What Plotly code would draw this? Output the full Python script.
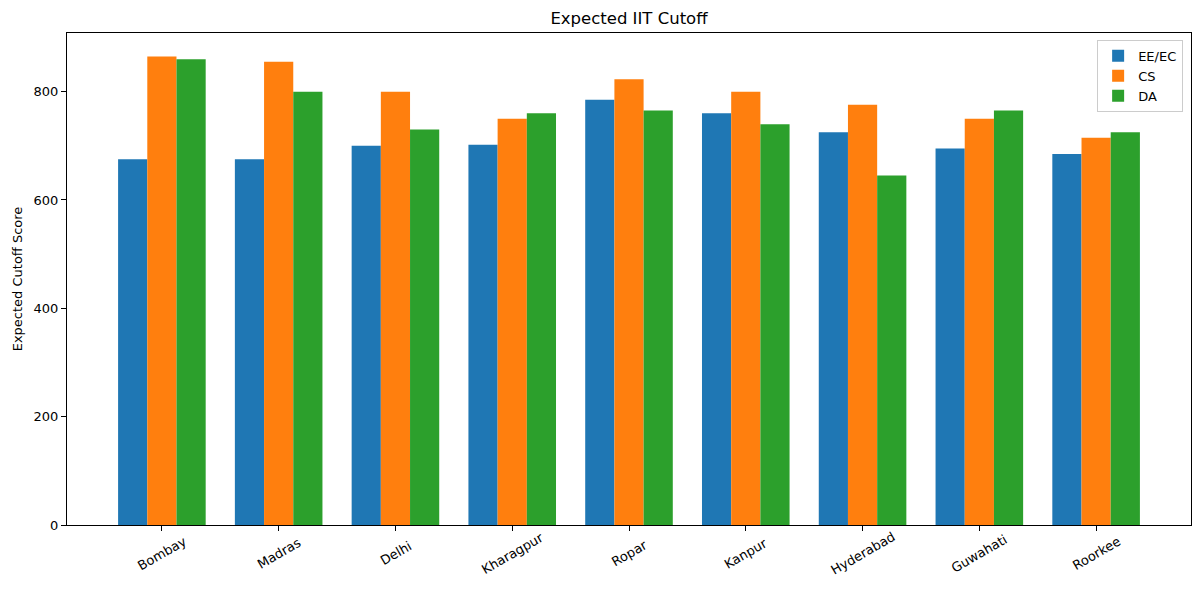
import plotly.graph_objects as go

# Expected cutoff scores
institutes = ["Bombay", "Madras", "Delhi", "Kharagpur", "Ropar",
              "Kanpur", "Hyderabad", "Guwahati", "Roorkee"]
ee_ec = [675, 675, 700, 702, 785, 760, 725, 695, 685]
cs = [865, 855, 800, 750, 823, 800, 776, 750, 715]
da = [860, 800, 730, 760, 765, 740, 645, 765, 725]

series = [("EE/EC", ee_ec, "#1f77b4"),
          ("CS", cs, "#ff7f0e"),
          ("DA", da, "#2ca02c")]

FONT = "DejaVu Sans, sans-serif"

fig = go.Figure()
for name, vals, color in series:
    fig.add_trace(go.Bar(
        name=name, x=institutes, y=vals,
        marker=dict(color=color, line=dict(width=0)),
    ))

# rotated tick labels centred on their ticks (matplotlib style)
for name in institutes:
    fig.add_annotation(
        x=name, xref="x", y=0, yref="paper", yanchor="middle", xanchor="center",
        yshift=-28, text=name, textangle=-30, showarrow=False,
        font=dict(size=13),
    )

ymax = max(max(ee_ec), max(cs), max(da)) * 1.05

fig.update_layout(
    width=1200, height=595,
    barmode="group", bargap=0.25, bargroupgap=0,
    paper_bgcolor="white", plot_bgcolor="white",
    font=dict(family=FONT, size=13, color="black"),
    margin=dict(l=67, r=9, t=33, b=70),
    title=dict(text="Expected IIT Cutoff", xref="paper", x=0.5, xanchor="center",
               yref="container", y=0.97, yanchor="middle", font=dict(size=16.5)),
    legend=dict(x=0.993, y=0.986, xanchor="right", yanchor="top",
                bgcolor="rgba(255,255,255,0.8)", bordercolor="#cccccc",
                borderwidth=1, font=dict(size=13), tracegroupgap=0),
    xaxis=dict(range=[-0.8125, 8.8125], showticklabels=False, showgrid=False,
               showline=True, linecolor="black", linewidth=1, mirror=True,
               ticks="outside", ticklen=5, tickcolor="black", automargin=False),
    yaxis=dict(range=[0, ymax],
               title=dict(text="Expected Cutoff Score", standoff=8, font=dict(size=13)),
               tickvals=[0, 200, 400, 600, 800], showgrid=False, zeroline=False,
               showline=True, linecolor="black", linewidth=1, mirror=True,
               ticks="outside", ticklen=5, tickcolor="black", automargin=False),
)

fig.write_html("out.html", config={"displayModeBar": False},
               post_script="document.body.style.margin='0';")
